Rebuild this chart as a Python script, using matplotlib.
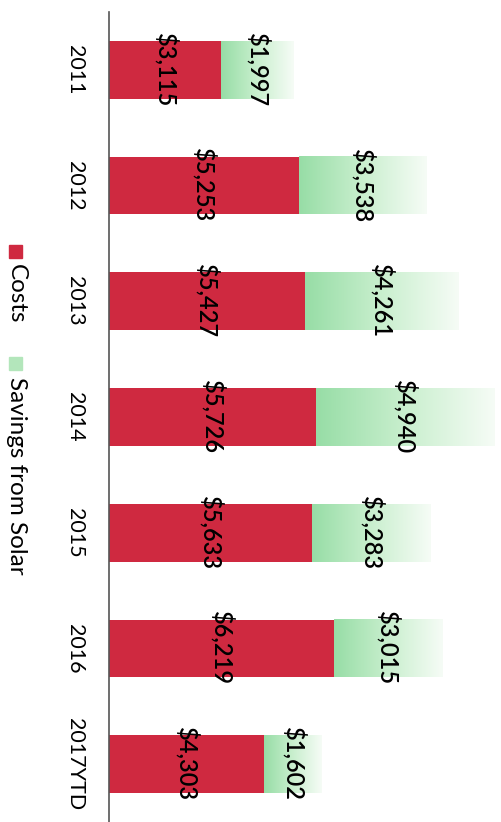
import numpy as np
import matplotlib.pyplot as plt
from matplotlib.patches import Rectangle
from matplotlib.colors import LinearSegmentedColormap

plt.rcParams['font.family'] = ['Lato', 'DejaVu Sans']

# --- Data ---
years = ["2011", "2012", "2013", "2014", "2015", "2016", "2017YTD"]
costs = [3115, 5253, 5427, 5726, 5633, 6219, 4303]
savings = [1997, 3538, 4261, 4940, 3283, 3015, 1602]

red = "#CF2940"
green_fade = LinearSegmentedColormap.from_list("fade", ["#97DDA6", "#C9EFCE", "#F6FCF6"])

W, H = 502, 822
fig = plt.figure(figsize=(W / 100, H / 100), dpi=100)
ax = fig.add_axes([109 / W, 0, 393 / W, 810 / H])

pos = np.arange(len(years))
bar_h = 0.5
ax.barh(pos, costs, height=bar_h, color=red, zorder=2)

# savings segment drawn as a gradient fading to white
grad = np.linspace(0, 1, 256).reshape(1, -1)
for p, c, s in zip(pos, costs, savings):
    ax.imshow(grad, cmap=green_fade, aspect="auto", zorder=1,
              extent=(c, c + s, p + bar_h / 2, p - bar_h / 2))

for p, c, s in zip(pos, costs, savings):
    ax.text(c / 2, p, f"${c:,}", rotation=270, ha="center", va="center",
            fontsize=17, fontweight="semibold", color="black", zorder=3)
    ax.text(c + s / 2, p, f"${s:,}", rotation=270, ha="center", va="center",
            fontsize=17, fontweight="semibold", color="black", zorder=3)

ax.set_xlim(0, 393 / 0.0361)
ax.set_ylim(len(years) - 0.5, -0.5)
ax.set_yticks(pos)
ax.set_yticklabels(years, rotation=270, fontsize=15.5, va="center")
ax.tick_params(axis="y", length=0, pad=17)
ax.set_xticks([])
for side in ["top", "right", "bottom"]:
    ax.spines[side].set_visible(False)
ax.spines["left"].set_color("#555555")
ax.spines["left"].set_linewidth(1.2)

# legend, rotated with the rest of the chart
def fy(py):
    return 1 - py / H

fig.add_artist(Rectangle((9 / W, fy(258)), 13 / W, 13 / H, color=red,
                         transform=fig.transFigure))
fig.text(16 / W, fy(264), "Costs", rotation=270, ha="center", va="top", fontsize=17.5)
fig.add_artist(Rectangle((9 / W, fy(370)), 13 / W, 13 / H, color="#B3E6BB",
                         transform=fig.transFigure))
fig.text(16 / W, fy(377), "Savings from Solar", rotation=270, ha="center", va="top",
         fontsize=17.5)

fig.savefig("out.png", dpi=100)
